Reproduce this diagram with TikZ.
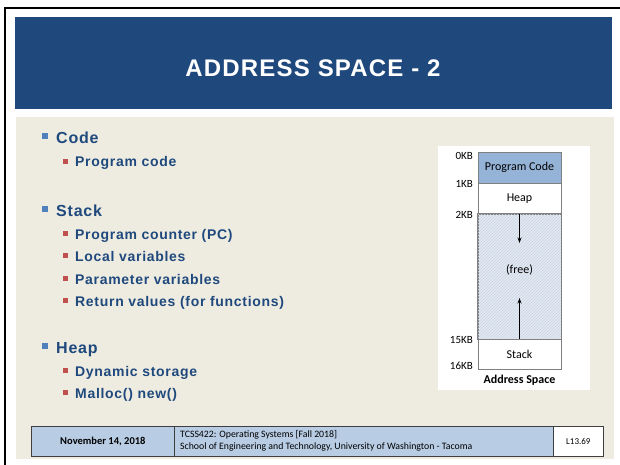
\documentclass[tikz,border=0pt]{standalone}
\usepackage{fontspec}
\setmainfont{Liberation Sans}
\newfontfamily\spacedfont[LetterSpace=5]{Liberation Sans}
\newfontfamily\calfont{Carlito}
\usetikzlibrary{patterns,arrows.meta}
\definecolor{titleblue}{HTML}{1F497D}
\definecolor{beige}{HTML}{EEECE1}
\definecolor{txtblue}{HTML}{1F497D}
\definecolor{bulone}{HTML}{4F81BD}
\definecolor{bultwo}{HTML}{C0504D}
\definecolor{codefill}{HTML}{95B3D7}
\definecolor{freefill}{HTML}{E2E9F2}
\definecolor{hatchcol}{HTML}{CAD5E2}
\definecolor{seggray}{HTML}{7F7F7F}
\definecolor{footfill}{HTML}{B8CCE4}
\definecolor{cellborder}{HTML}{3F3F3F}
\begin{document}
\begin{tikzpicture}[x=1pt,y=-1pt,
  lone/.style={anchor=base west, inner sep=0pt, text=txtblue, font=\spacedfont\bfseries\fontsize{16}{18}\selectfont},
  ltwo/.style={anchor=base west, inner sep=0pt, text=txtblue, font=\spacedfont\bfseries\fontsize{14}{16}\selectfont},
  seg/.style={draw=seggray, line width=0.6pt, minimum width=83pt, inner sep=0pt, font=\calfont\fontsize{12}{14}\selectfont},
  kb/.style={anchor=east, inner sep=0pt, font=\calfont\fontsize{11}{13}\selectfont},
  cell/.style={draw=cellborder, line width=0.7pt, inner sep=0pt, anchor=north west, minimum height=30pt},
  arr/.style={-{Stealth[length=5.5pt,width=4pt]}, line width=0.8pt}
]
\useasboundingbox (0,0) rectangle (620,465);
\fill[white] (0,0) rectangle (620,465);
\draw[black, line width=2pt] (5,465) -- (5,8) -- (620,8);
\fill[titleblue] (15,17) rectangle (612,109);
\node[text=white, inner sep=0pt, font=\spacedfont\bfseries\fontsize{24}{28}\selectfont] (title) at (313,68.5) {ADDRESS SPACE - 2};
\fill[beige] (16,117) rectangle (614,459);

% level 1 bullets
\foreach \b in {143.3,216,353} { \fill[bulone] (42,\b-10) rectangle ++(6,6); }
% level 2 bullets
\foreach \b in {166.7,239,261,284,306,376,398} { \fill[bultwo] (63,\b-7.7) rectangle ++(4.5,4.5); }

\node[lone] (code) at (56,143.3) {Code};
\node[ltwo] (pcode) at (75,166.7) {Program code};
\node[lone] (stack) at (56,216) {Stack};
\node[ltwo] (pc) at (75,239) {Program counter (PC)};
\node[ltwo] (local) at (75,261) {Local variables};
\node[ltwo] (param) at (75,284) {Parameter variables};
\node[ltwo] (ret) at (75,306) {Return values (for functions)};
\node[lone] (heap) at (56,353) {Heap};
\node[ltwo] (dyn) at (75,376) {Dynamic storage};
\node[ltwo] (malloc) at (75,398) {Malloc() new()};

% address space figure
\fill[white] (438,146) rectangle (590,390);
\node[seg, fill=codefill, minimum height=31pt] (scode) at (519.5,167.5) {Program Code};
\node[seg, fill=white, minimum height=31pt] (sheap) at (519.5,198.5) {Heap};
\node[seg, fill=freefill, minimum height=125pt] (sfree) at (519.5,276.5) {};
\fill[pattern=north east lines, pattern color=hatchcol] (sfree.north west) rectangle (sfree.south east);
\draw[seggray, line width=0.6pt] (sfree.north west) rectangle (sfree.south east);
\node[inner sep=0pt, font=\calfont\fontsize{12}{14}\selectfont] (freelbl) at (519.5,270) {(free)};
\node[seg, fill=white, minimum height=30pt] (sstack) at (519.5,354) {Stack};
\coordinate (downend) at (519.5,243);
\coordinate (upend) at (519.5,298);
\draw[arr] (sfree.north) -- (downend);
\draw[arr] (sfree.south) -- (upend);
\node[kb] (k0) at (473,156) {0KB};
\node[kb] (k1) at (473,184) {1KB};
\node[kb] (k2) at (473,215) {2KB};
\node[kb] (k15) at (473,340) {15KB};
\node[kb] (k16) at (473,366) {16KB};
\node[inner sep=0pt, font=\calfont\bfseries\fontsize{12}{14}\selectfont] (aslbl) at (519.5,380) {Address Space};

% footer
\node[cell, fill=footfill, minimum width=143pt, font=\calfont\bfseries\fontsize{10.5}{12}\selectfont] (fdate) at (31,426) {November 14, 2018};
\node[cell, fill=footfill, minimum width=379pt] (fmid) at (174,426) {};
\node[cell, fill=white, minimum width=50pt, font=\calfont\fontsize{9}{11}\selectfont] (fnum) at (553,426) {L13.69};
\node[anchor=west, inner sep=0pt, align=left, font=\calfont\fontsize{9.8}{12}\selectfont] (fmidtxt) at (180,441) {TCSS422: Operating Systems [Fall 2018]\\School of Engineering and Technology, University of Washington - Tacoma};
\end{tikzpicture}
\end{document}
